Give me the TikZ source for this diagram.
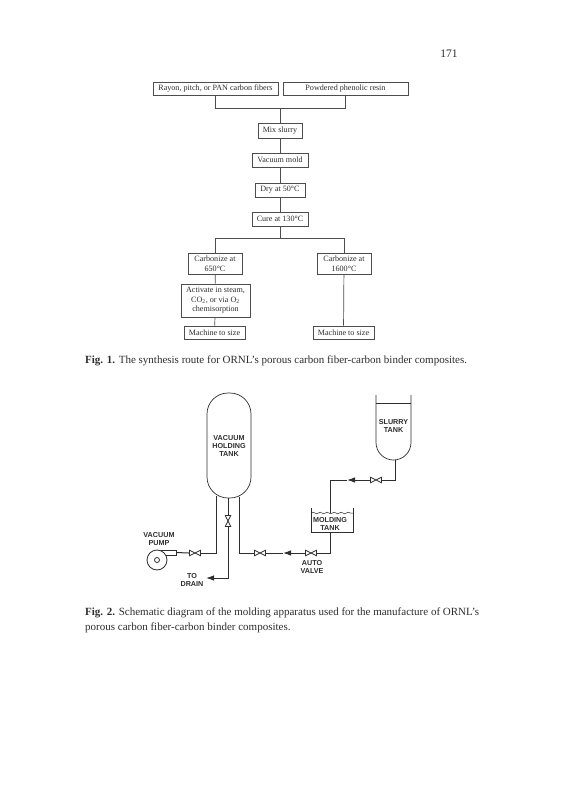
\documentclass[tikz,border=0pt]{standalone}
\usepackage{fontspec}
\setmainfont{Liberation Serif}
\newfontfamily\lblfont{Liberation Sans}
\usetikzlibrary{arrows.meta,decorations.pathmorphing}
\definecolor{ink}{gray}{0.18}
\tikzset{
  x=1pt,y=-1pt,
  flowbox/.style={draw=ink!85,line width=0.7pt,inner sep=0pt,align=center,text=ink,font=\fontsize{8.1}{9.6}\selectfont},
  flowline/.style={draw=ink!85,line width=0.7pt},
  pipe/.style={draw=ink,line width=1pt},
  pipearrow/.style={pipe,-{Latex[length=8pt,width=5.5pt]}},
  vessel/.style={draw=ink,line width=0.7pt},
  tag/.style={inner sep=0pt,align=center,text=ink,font=\lblfont\bfseries\fontsize{7.2}{8}\selectfont},
  valveh/.style={minimum width=12pt,minimum height=6.5pt,inner sep=0pt,fill=white,
    path picture={\draw[ink,line width=0.7pt] ([shift={(0.5,0.5)}]path picture bounding box.north west) -- ([shift={(-0.5,-0.5)}]path picture bounding box.south east) -- ([shift={(-0.5,0.5)}]path picture bounding box.north east) -- ([shift={(0.5,-0.5)}]path picture bounding box.south west) -- cycle;}},
  valvev/.style={minimum width=6.5pt,minimum height=12pt,inner sep=0pt,fill=white,
    path picture={\draw[ink,line width=0.7pt] ([shift={(0.5,0.5)}]path picture bounding box.north west) -- ([shift={(-0.5,0.5)}]path picture bounding box.north east) -- ([shift={(0.5,-0.5)}]path picture bounding box.south west) -- ([shift={(-0.5,-0.5)}]path picture bounding box.south east) -- cycle;}},
  caption/.style={inner sep=0pt,anchor=west,text=ink,font=\fontsize{11}{13}\selectfont}
}
\begin{document}
\begin{tikzpicture}
\useasboundingbox[fill=white] (0,0) rectangle (565,800);
\node[inner sep=0pt,text=ink,font=\fontsize{11.5}{13}\selectfont] (page) at (449,54) {171};

% flow chart
\node[flowbox,minimum width=125pt,minimum height=13pt] (fibers) at (215.5,88.5) {Rayon, pitch, or PAN carbon fibers};
\node[flowbox,minimum width=125pt,minimum height=13pt] (resin) at (345.5,88.5) {Powdered phenolic resin};
\node[flowbox,minimum width=44pt,minimum height=15pt] (mix) at (280,130.5) {Mix slurry};
\node[flowbox,minimum width=56pt,minimum height=14pt] (mold) at (280,160) {Vacuum mold};
\node[flowbox,minimum width=50pt,minimum height=14pt] (dry) at (280,190) {Dry at 50°C};
\node[flowbox,minimum width=56pt,minimum height=14pt] (cure) at (280,219) {Cure at 130°C};
\node[flowbox,minimum width=54pt,minimum height=21pt] (carbL) at (215,263.5) {Carbonize at\\650°C};
\node[flowbox,minimum width=54pt,minimum height=21pt] (carbR) at (344,263.5) {Carbonize at\\1600°C};
\node[flowbox,minimum width=69pt,minimum height=33pt] (act) at (215.5,300.5) {Activate in steam,\\CO\textsubscript{2}, or via O\textsubscript{2}\\chemisorption};
\node[flowbox,minimum width=61pt,minimum height=13pt] (machL) at (214.5,332.5) {Machine to size};
\node[flowbox,minimum width=61pt,minimum height=13pt] (machR) at (343.5,332.5) {Machine to size};

\coordinate (joinA) at (280,108);
\coordinate (joinB) at (280,238);
\draw[flowline] (fibers.south) -- (fibers.south |- joinA) -- (resin.south |- joinA) -- (resin.south);
\draw[flowline] (joinA) -- (mix);
\draw[flowline] (mix) -- (mold);
\draw[flowline] (mold) -- (dry);
\draw[flowline] (dry) -- (cure);
\draw[flowline] (cure) -- (joinB);
\draw[flowline] (carbL.north) -- (carbL.north |- joinB) -- (carbR.north |- joinB) -- (carbR.north);
\draw[flowline] (carbL) -- (act);
\draw[flowline] (act) -- (machL);
\draw[flowline] (carbR) -- (machR);

\node[caption] (cap1) at (85,361) {\textbf{Fig. 1.} The synthesis route for ORNL's porous carbon fiber-carbon binder composites.};

% vacuum holding tank
\node[vessel,rounded corners=21pt,minimum width=44pt,minimum height=105pt,inner sep=0pt,tag] (hold) at (229,445.5) {VACUUM\\HOLDING\\TANK};
\coordinate (holdL) at (216,496);
\coordinate (holdR) at (239.5,496.5);
\coordinate (holdC) at (228,498);

% slurry tank
\coordinate (slurryNW) at (376,395);
\coordinate (slurryNE) at (411,395);
\coordinate (slurryOut) at (395,460);
\draw[vessel] (slurryNW) -- (376,442.5) arc[start angle=180,end angle=0,radius=17.5] -- (slurryNE);
\draw[vessel] (376,403) -- (411,403);
\node[tag] (slurry) at (393.5,426) {SLURRY\\TANK};

% molding tank
\coordinate (moldNW) at (311,508);
\coordinate (moldNE) at (353,508);
\coordinate (moldIn) at (330,513);
\coordinate (moldOut) at (330,532);
\draw[vessel,line width=0.9pt] (moldNW) -- (311,532) -- (353,532) -- (moldNE);
\draw[vessel,line width=0.5pt,decorate,decoration={snake,amplitude=0.8pt,segment length=7pt}] (311,513) -- (353,513);
\node[tag] (moldtank) at (330,523.5) {MOLDING\\TANK};

% pump
\node[draw=ink,line width=0.7pt,minimum width=18pt,minimum height=5pt,inner sep=0pt,fill=white] (pumpout) at (167,552.5) {};
\node[draw=ink,line width=0.8pt,circle,minimum size=20pt,inner sep=0pt,fill=white] (pump) at (157,560) {};
\node[draw=ink,line width=0.8pt,circle,minimum size=5pt,inner sep=0pt] (pumpeye) at (157,560) {};
\node[tag] (pumplabel) at (159,539) {VACUUM\\PUMP};

% valves
\node[valveh] (v1) at (195,553) {};
\node[valvev] (v2) at (228,521) {};
\node[valveh] (v3) at (260,553) {};
\node[valveh] (v4) at (311,553) {};
\node[valveh] (v5) at (376,480) {};

\coordinate (c1) at (216,553);
\coordinate (c2) at (239.5,553);
\coordinate (c3) at (330,553);
\coordinate (c4) at (395,480);
\coordinate (c5) at (330,480);
\coordinate (c6) at (228,578);
\coordinate (tipA) at (347,480);
\coordinate (tipB) at (283,553);
\coordinate (tipC) at (206,578);

\draw[pipe] (pumpout.east) -- (v1.west);
\draw[pipe] (v1.east) -- (c1) -- (holdL);
\draw[pipe] (holdC) -- (v2.north);
\draw[pipearrow] (v2.south) -- (c6) -- (tipC);
\draw[pipe] (holdR) -- (c2) -- (v3.west);
\draw[pipe] (v3.east) -- (tipB);
\draw[pipearrow] (v4.west) -- (tipB);
\draw[pipe] (moldOut) -- (c3) -- (v4.east);
\draw[pipe] (slurryOut) -- (c4) -- (v5.east);
\draw[pipearrow] (v5.west) -- (tipA);
\draw[pipe] (tipA) -- (c5) -- (moldIn);

\node[tag] (drain) at (192,579.5) {TO\\DRAIN};
\node[tag] (auto) at (312,567) {AUTO\\VALVE};

\node[caption] (cap2a) at (85,613) {\textbf{Fig. 2.} Schematic diagram of the molding apparatus used for the manufacture of ORNL's};
\node[caption] (cap2b) at (85,628) {porous carbon fiber-carbon binder composites.};
\end{tikzpicture}
\end{document}
